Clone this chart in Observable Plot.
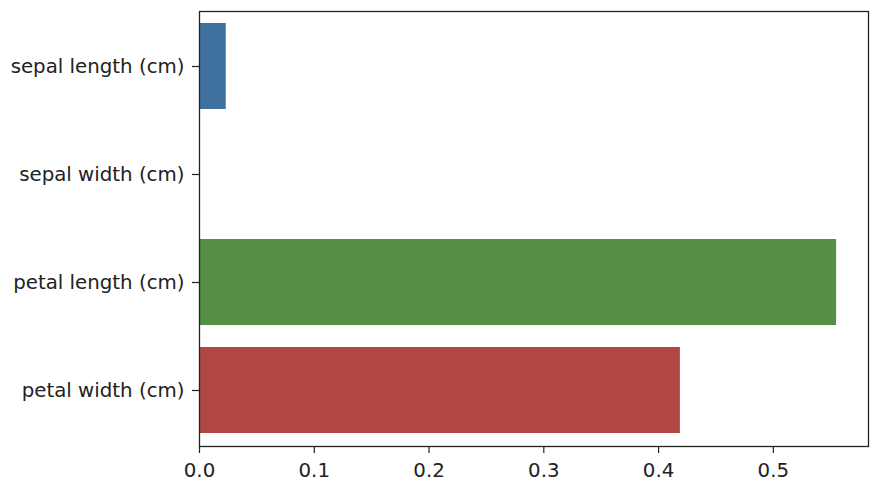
<!DOCTYPE html>
<html>
<head>
<meta charset="utf-8">
<script src="https://cdn.jsdelivr.net/npm/d3@7"></script>
<script src="https://cdn.jsdelivr.net/npm/@observablehq/plot@0.6"></script>
<style>
  html, body { margin: 0; padding: 0; background: #fff; }
  #chart svg { display: block; }
</style>
</head>
<body>
<div id="chart"></div>
<script>
const features = ["sepal length (cm)", "sepal width (cm)", "petal length (cm)", "petal width (cm)"];
const importances = [0.0233, 0.0, 0.5551, 0.4190];
const barColors = ["#3e71a0", "#e1812c", "#548f45", "#b14743"];
const xTicks = [0, 0.1, 0.2, 0.3, 0.4, 0.5];

const data = features.map((f, i) => ({feature: f, value: importances[i], color: barColors[i]}));

const plot = Plot.plot({
  width: 876,
  height: 494,
  marginLeft: 199,
  marginRight: 8,
  marginTop: 11,
  marginBottom: 48,
  style: {fontFamily: "DejaVu Sans", fontSize: "19.8px", color: "#222", background: "#fff"},
  x: {domain: [0, 0.5829], ticks: xTicks, tickFormat: d3.format(".1f"), label: null},
  y: {domain: features, paddingInner: 0.2, paddingOuter: 0.1, label: null},
  marks: [
    Plot.barX(data, {x: "value", y: "feature", fill: "color"}),
    Plot.axisX({ticks: xTicks, tickFormat: d3.format(".1f"), tickSize: 7, tickPadding: 9, stroke: "#222", strokeWidth: 1.2, label: null}),
    Plot.axisY({tickSize: 7, tickPadding: 8, stroke: "#222", strokeWidth: 1.2, label: null}),
    Plot.frame({stroke: "#222", strokeWidth: 1.3})
  ]
});
document.getElementById("chart").appendChild(plot);
</script>
</body>
</html>
